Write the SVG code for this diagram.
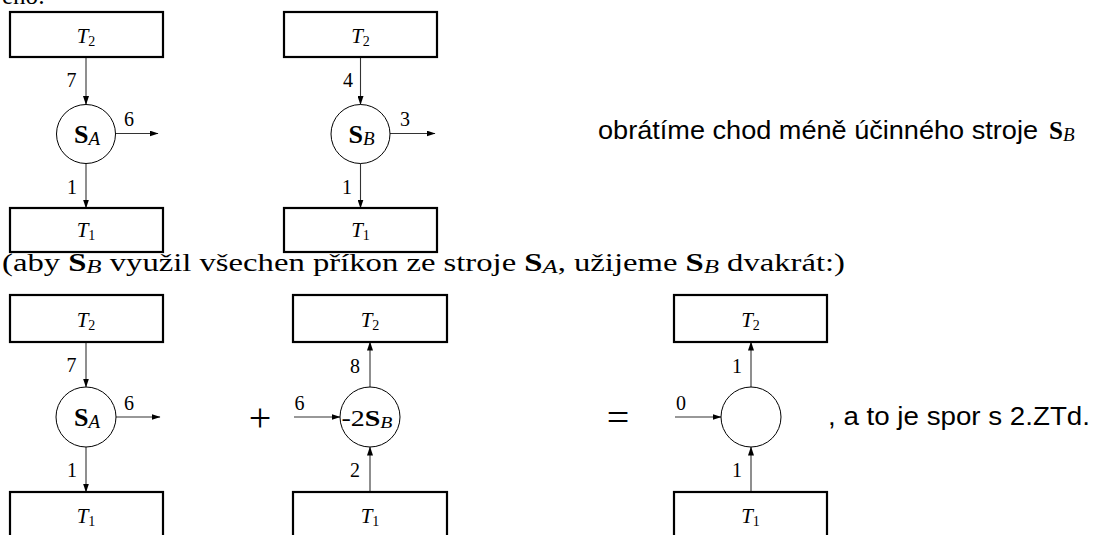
<svg xmlns="http://www.w3.org/2000/svg" width="1097" height="535" viewBox="0 0 1097 535">
<defs>
<marker id="ah" markerUnits="userSpaceOnUse" markerWidth="9" markerHeight="6" refX="8.5" refY="3" orient="auto">
<path d="M0,0 L9,3 L0,6 z" fill="#000"/>
</marker>
<style>
.box{fill:#fff;stroke:#000;stroke-width:2.2}
.node{fill:#fff;stroke:#000;stroke-width:1}
.edge{stroke:#333;stroke-width:1.1;fill:none;marker-end:url(#ah)}
.lbl{font-family:"Liberation Serif",serif;font-size:20px;text-anchor:middle;fill:#000}
.tl{font-family:"Liberation Serif",serif;font-size:21px;text-anchor:middle;fill:#000}
.it{font-style:italic}
.sub{font-size:14px}
.nl{font-family:"Liberation Serif",serif;font-size:26px;text-anchor:middle;fill:#000}
.bold{font-weight:bold}
.subn{font-size:19px;font-style:italic}
.serif{font-family:"Liberation Serif",serif;font-size:25px;fill:#000}
.sans{font-family:"Liberation Sans",sans-serif;font-size:25px;fill:#000}
.big{font-family:"Liberation Serif",serif;font-size:40px;text-anchor:middle;fill:#000}
</style>
</defs>

<text class="serif" x="2" y="4">eno:</text>

<g id="edges">
<line class="edge" x1="86" y1="57" x2="86" y2="104.5"/>
<line class="edge" x1="115.5" y1="133.5" x2="158" y2="133.5"/>
<line class="edge" x1="86" y1="163.5" x2="86" y2="208"/>
<line class="edge" x1="360.5" y1="57" x2="360.5" y2="104.5"/>
<line class="edge" x1="390" y1="133.5" x2="435" y2="133.5"/>
<line class="edge" x1="360.5" y1="163.5" x2="360.5" y2="208"/>
<line class="edge" x1="86" y1="342" x2="86" y2="387"/>
<line class="edge" x1="116" y1="417" x2="160" y2="417"/>
<line class="edge" x1="86" y1="447" x2="86" y2="492"/>
<line class="edge" x1="294" y1="417" x2="340" y2="417"/>
<line class="edge" x1="370" y1="387" x2="370" y2="342"/>
<line class="edge" x1="370" y1="492" x2="370" y2="447"/>
<line class="edge" x1="675" y1="417" x2="721" y2="417"/>
<line class="edge" x1="751" y1="387" x2="751" y2="342"/>
<line class="edge" x1="751" y1="492" x2="751" y2="447"/>
</g>

<g id="edge-labels">
<text class="lbl" x="71.5" y="87">7</text>
<text class="lbl" x="129" y="126">6</text>
<text class="lbl" x="72" y="194">1</text>
<text class="lbl" x="348" y="87">4</text>
<text class="lbl" x="405" y="126">3</text>
<text class="lbl" x="347" y="194">1</text>
<text class="lbl" x="71.5" y="372">7</text>
<text class="lbl" x="129" y="410">6</text>
<text class="lbl" x="72" y="477">1</text>
<text class="lbl" x="355" y="373">8</text>
<text class="lbl" x="299.5" y="410">6</text>
<text class="lbl" x="355" y="477">2</text>
<text class="lbl" x="737" y="373">1</text>
<text class="lbl" x="681" y="410">0</text>
<text class="lbl" x="737" y="477">1</text>
</g>

<g id="r1a-t2"><rect class="box" x="10" y="12" width="153" height="45"/><text class="tl" x="86" y="43"><tspan class="it">T</tspan><tspan class="sub" dy="3">2</tspan></text></g>
<g id="r1a-s"><circle class="node" cx="86" cy="134" r="29.5"/><text class="nl" x="87" y="143"><tspan class="bold">S</tspan><tspan class="subn" dy="2">A</tspan></text></g>
<g id="r1a-t1"><rect class="box" x="10" y="208" width="153" height="44"/><text class="tl" x="86" y="237"><tspan class="it">T</tspan><tspan class="sub" dy="3">1</tspan></text></g>

<g id="r1b-t2"><rect class="box" x="284" y="12" width="153" height="45"/><text class="tl" x="360.5" y="43"><tspan class="it">T</tspan><tspan class="sub" dy="3">2</tspan></text></g>
<g id="r1b-s"><circle class="node" cx="360.5" cy="134" r="29.5"/><text class="nl" x="361.5" y="143"><tspan class="bold">S</tspan><tspan class="subn" dy="2">B</tspan></text></g>
<g id="r1b-t1"><rect class="box" x="284" y="208" width="153" height="44"/><text class="tl" x="360.5" y="237"><tspan class="it">T</tspan><tspan class="sub" dy="3">1</tspan></text></g>

<text class="sans" x="598" y="139" textLength="440" lengthAdjust="spacingAndGlyphs">obrátíme chod méně účinného stroje</text>
<text class="serif" x="1049" y="139"><tspan class="bold">S</tspan><tspan class="subn" dy="2">B</tspan></text>

<text class="serif" x="2" y="271" textLength="843" lengthAdjust="spacingAndGlyphs">(aby <tspan class="bold">S</tspan><tspan class="subn" dy="2">B</tspan><tspan dy="-2"> využil všechen příkon ze stroje </tspan><tspan class="bold">S</tspan><tspan class="subn" dy="2">A</tspan><tspan dy="-2">, užijeme </tspan><tspan class="bold">S</tspan><tspan class="subn" dy="2">B</tspan><tspan dy="-2"> dvakrát:)</tspan></text>

<g id="r2a-t2"><rect class="box" x="10" y="295" width="153" height="47"/><text class="tl" x="86" y="327"><tspan class="it">T</tspan><tspan class="sub" dy="3">2</tspan></text></g>
<g id="r2a-s"><circle class="node" cx="86" cy="417" r="30"/><text class="nl" x="87" y="426"><tspan class="bold">S</tspan><tspan class="subn" dy="2">A</tspan></text></g>
<g id="r2a-t1"><rect class="box" x="10" y="492" width="153" height="60"/><text class="tl" x="86" y="523"><tspan class="it">T</tspan><tspan class="sub" dy="3">1</tspan></text></g>

<text class="big" x="260" y="431">+</text>

<g id="r2b-t2"><rect class="box" x="293" y="295" width="154" height="47"/><text class="tl" x="370" y="327"><tspan class="it">T</tspan><tspan class="sub" dy="3">2</tspan></text></g>
<g id="r2b-s"><circle class="node" cx="370" cy="417" r="30"/><text class="nl" x="367" y="426" style="font-size:24px" textLength="51" lengthAdjust="spacingAndGlyphs">-2<tspan class="bold">S</tspan><tspan class="subn" dy="2" style="font-size:17px">B</tspan></text></g>
<g id="r2b-t1"><rect class="box" x="293" y="492" width="154" height="60"/><text class="tl" x="370" y="523"><tspan class="it">T</tspan><tspan class="sub" dy="3">1</tspan></text></g>

<text class="big" x="618" y="431">=</text>

<g id="r2c-t2"><rect class="box" x="674" y="295" width="153" height="47"/><text class="tl" x="750.5" y="327"><tspan class="it">T</tspan><tspan class="sub" dy="3">2</tspan></text></g>
<g id="r2c-s"><circle class="node" cx="751" cy="417" r="30"/></g>
<g id="r2c-t1"><rect class="box" x="674" y="492" width="153" height="60"/><text class="tl" x="750.5" y="523"><tspan class="it">T</tspan><tspan class="sub" dy="3">1</tspan></text></g>

<text class="sans" x="828" y="425" textLength="262" lengthAdjust="spacingAndGlyphs">, a to je spor s 2.ZTd.</text>
</svg>
